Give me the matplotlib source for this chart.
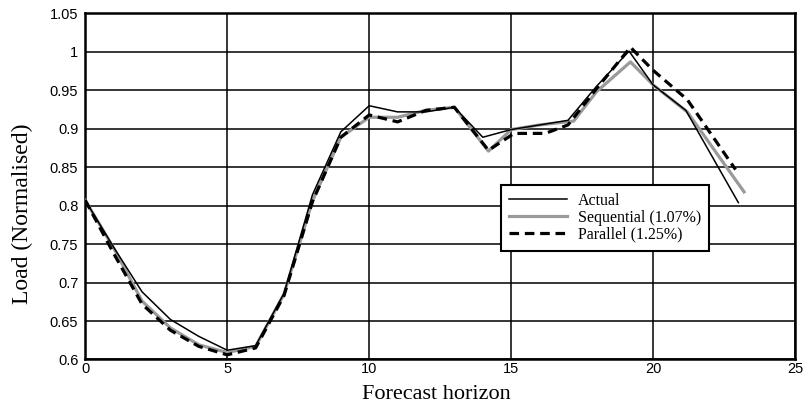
import numpy as np
import matplotlib.pyplot as plt

# Forecast horizon positions and normalised load for each series
actual_x = [0, 1, 2, 3, 4, 5, 6, 7, 8, 9, 10, 11, 12, 13, 14, 15, 16, 17, 18, 19.15, 20, 21.15, 23.0]
actual_y = [0.807, 0.746, 0.688, 0.652, 0.630, 0.612, 0.618, 0.686, 0.814, 0.896, 0.930, 0.922,
            0.922, 0.928, 0.889, 0.899, 0.905, 0.911, 0.955, 1.001, 0.957, 0.924, 0.804]

seq_x = [0, 1, 2, 3, 4, 5, 6, 7, 8, 9, 10, 11, 12, 13, 14.2, 15, 16, 17.2, 18, 19.2, 20, 21.2, 23.2]
seq_y = [0.807, 0.745, 0.676, 0.641, 0.619, 0.609, 0.617, 0.685, 0.806, 0.889, 0.915, 0.915,
         0.924, 0.928, 0.871, 0.899, 0.905, 0.910, 0.948, 0.987, 0.957, 0.922, 0.818]

par_x = [0, 1, 2, 3, 4, 5, 6, 7, 8, 9, 10, 11, 12, 13, 14.2, 15.1, 16.2, 17, 18, 19.2, 20, 21.2, 22.9]
par_y = [0.807, 0.738, 0.672, 0.638, 0.617, 0.606, 0.615, 0.683, 0.805, 0.889, 0.918, 0.909,
         0.924, 0.928, 0.872, 0.894, 0.894, 0.905, 0.952, 1.006, 0.976, 0.938, 0.847]

labels = ["Actual", "Sequential (1.07%)", "Parallel (1.25%)"]

fig = plt.figure(figsize=(8.04, 4.08), dpi=100)
ax = fig.add_axes([0.106, 0.119, 0.883, 0.848])

ax.plot(actual_x, actual_y, color="black", linewidth=1.1, label=labels[0], zorder=5)
ax.plot(seq_x, seq_y, color="#9a9a9a", linewidth=2.3, label=labels[1], zorder=3)
ax.plot(par_x, par_y, color="black", linewidth=2.3, linestyle=(0, (3, 1.8)),
        label=labels[2], zorder=4)

ax.set_xlim(0, 25)
ax.set_ylim(0.6, 1.05)
ax.set_xticks(np.arange(0, 26, 5))
ax.set_yticks(np.arange(0.6, 1.051, 0.05))
ax.set_yticklabels(["0.6", "0.65", "0.7", "0.75", "0.8", "0.85", "0.9", "0.95", "1", "1.05"])

ax.grid(True, color="black", linewidth=1.1)
ax.set_axisbelow(True)
for s in ax.spines.values():
    s.set_linewidth(1.8)

ax.tick_params(axis="both", length=0, labelsize=10.5)
ax.tick_params(axis="x", pad=2)
ax.tick_params(axis="y", pad=5)
for lab in ax.get_xticklabels() + ax.get_yticklabels():
    lab.set_family("Liberation Sans")

ax.set_xlabel("Forecast horizon", family="Liberation Serif", fontsize=16)
ax.xaxis.set_label_coords(0.495, -0.075)
ax.set_ylabel("Load (Normalised)", family="Liberation Serif", fontsize=17)
ax.yaxis.set_label_coords(-0.074, 0.42)

leg = ax.legend(loc="upper left", bbox_to_anchor=(0.586, 0.504), fancybox=False,
                framealpha=1, edgecolor="black", handlelength=3.6,
                prop={"family": "Liberation Serif", "size": 11.5},
                borderpad=0.5, labelspacing=0.05, handletextpad=0.7, borderaxespad=0)
leg.get_frame().set_linewidth(1.5)

fig.savefig("out.png", dpi=100)
